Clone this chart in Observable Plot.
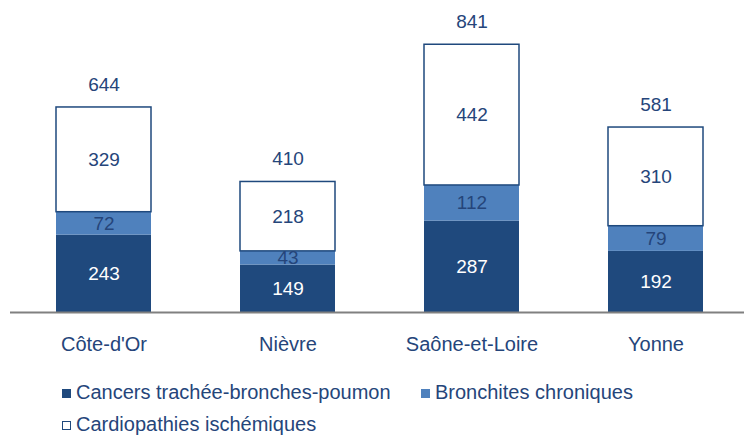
<!DOCTYPE html>
<html><head><meta charset="utf-8">
<script src="https://cdn.jsdelivr.net/npm/d3@7"></script>
<script src="https://cdn.jsdelivr.net/npm/@observablehq/plot@0.6"></script>
<style>
body{margin:0;background:#fff;font-family:"Liberation Sans",Arial,sans-serif;}
#wrap{position:relative;width:744px;height:435px;overflow:hidden;}
.leg{position:absolute;font-size:20px;color:#25457a;white-space:nowrap;line-height:20px;}
.sw{display:inline-block;width:9px;height:9px;margin-right:5px;vertical-align:1px;box-sizing:border-box;}
</style></head>
<body><div id="wrap"><div id="chart"></div></div>
<script>
const categories = ["Côte-d'Or", "Nièvre", "Saône-et-Loire", "Yonne"];
const series = ["Cancers trachée-bronches-poumon", "Bronchites chroniques", "Cardiopathies ischémiques"];
const cancers = [243, 149, 287, 192];
const bronchites = [72, 43, 112, 79];
const cardio = [329, 218, 442, 310];
const totals = [644, 410, 841, 581];
const colors = ["#1f497d", "#4f81bd", "#ffffff"];
const navy = "#1f497d";
const textNavy = "#25457a";

const values = [cancers, bronchites, cardio];
const rows = [];
categories.forEach((c, i) => {
  let base = 0;
  series.forEach((s, j) => {
    const v = values[j][i];
    rows.push({cat: c, serie: s, value: v, y1: base, y2: base + v});
    base += v;
  });
});
const totalRows = categories.map((c, i) => ({cat: c, total: totals[i]}));

const chart = Plot.plot({
  width: 744, height: 362,
  marginLeft: 10, marginRight: 0, marginTop: 0, marginBottom: 50,
  style: {fontFamily: "'Liberation Sans', Arial, sans-serif", fontSize: "20px", color: textNavy},
  x: {domain: categories, range: [10, 749], paddingInner: 0.486, paddingOuter: 0.243, label: null, tickSize: 0, tickPadding: 24},
  y: {domain: [0, 980], axis: null},
  color: {domain: series, range: colors},
  marks: [
    Plot.barY(rows, {x: "cat", y1: "y1", y2: "y2", fill: "serie", inset: 0,
      stroke: navy, strokeWidth: 1.5, strokeOpacity: d => d.serie === series[2] ? 1 : 0}),
    Plot.ruleY([0], {stroke: "#808080", strokeWidth: 2}),
    Plot.text(rows.filter(d => d.serie === series[0]), {x: "cat", y: d => (d.y1 + d.y2) / 2, text: d => String(d.value), fill: "white", fontSize: 19}),
    Plot.text(rows.filter(d => d.serie !== series[0]), {x: "cat", y: d => (d.y1 + d.y2) / 2, text: d => String(d.value), fill: textNavy, fontSize: 19}),
    Plot.text(totalRows, {x: "cat", y: "total", text: d => String(d.total), dy: -23, fill: textNavy, fontSize: 19})
  ]
});
document.getElementById("chart").appendChild(chart);

const legendItems = [
  {label: series[0], left: 62, top: 382},
  {label: series[1], left: 421, top: 382},
  {label: series[2], left: 62, top: 414}
];
legendItems.forEach((it, j) => {
  const d = document.createElement("div");
  d.className = "leg";
  d.style.left = it.left + "px";
  d.style.top = it.top + "px";
  const sw = document.createElement("span");
  sw.className = "sw";
  sw.style.background = colors[j];
  if (j === 2) sw.style.border = "1.5px solid " + navy;
  d.appendChild(sw);
  d.appendChild(document.createTextNode(it.label));
  document.getElementById("wrap").appendChild(d);
});
</script></body></html>
